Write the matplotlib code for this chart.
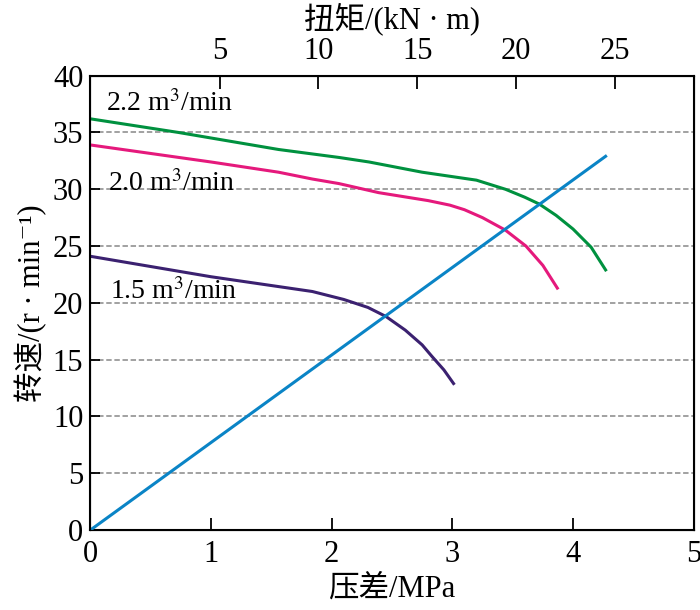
import numpy as np
import matplotlib
matplotlib.use("Agg")
import matplotlib.pyplot as plt

plt.rcParams['font.family'] = ['Liberation Serif', 'Noto Sans CJK SC', 'DejaVu Serif']
plt.rcParams['mathtext.fontset'] = 'stix'

# pressure difference (MPa) vs speed (r/min)
p_22 = [0.0, 0.73, 1.56, 2.06, 2.31, 2.75, 3.20, 3.44, 3.60, 3.72, 3.86, 4.00, 4.15, 4.27]
n_22 = [36.2, 35.0, 33.5, 32.8, 32.4, 31.5, 30.8, 30.0, 29.3, 28.7, 27.7, 26.5, 24.9, 22.9]

p_20 = [0.0, 1.00, 1.56, 1.84, 2.06, 2.39, 2.80, 2.98, 3.10, 3.25, 3.44, 3.61, 3.75, 3.87]
n_20 = [33.9, 32.4, 31.5, 30.9, 30.5, 29.7, 29.0, 28.6, 28.2, 27.5, 26.4, 25.0, 23.3, 21.3]

p_15 = [0.0, 1.00, 1.84, 2.10, 2.30, 2.45, 2.61, 2.75, 2.83, 2.93, 3.01]
n_15 = [24.1, 22.3, 21.0, 20.3, 19.6, 18.8, 17.6, 16.3, 15.3, 14.1, 12.9]

p_lin = [0.0, 4.27]
n_lin = [0.0, 32.9]

torque_ticks = [5, 10, 15, 20, 25]
torque_lim = (-1.55, 29.0)

fig = plt.figure(figsize=(7, 6.1), dpi=100)
ax = fig.add_axes([0.129, 0.131, 0.862, 0.745])

for y in range(5, 40, 5):
    ax.axhline(y, color='#9a9a9a', lw=1.3, ls=(0, (3, 1.5)), zorder=1)

ax.plot(p_22, n_22, color='#00913f', lw=2.2, zorder=3)
ax.plot(p_20, n_20, color='#e5197c', lw=2.2, zorder=3)
ax.plot(p_15, n_15, color='#3b2170', lw=2.2, zorder=3)
ax.plot(p_lin, n_lin, color='#0a84c6', lw=2.2, zorder=3)

ax.text(0.13, 37.5, '2.2 m$^3$/min', fontsize=20, va='center', ha='left')
ax.text(0.15, 30.5, '2.0 m$^3$/min', fontsize=20, va='center', ha='left')
ax.text(0.16, 21.0, '1.5 m$^3$/min', fontsize=20, va='center', ha='left')

ax.set_xlim(0, 5)
ax.set_ylim(0, 40)
ax.set_xticks([0, 1, 2, 3, 4, 5])
ax.set_yticks(range(0, 45, 5))
ax.tick_params(axis='both', direction='in', labelsize=22, width=1.3)
ax.tick_params(axis='x', length=9, pad=7)
ax.tick_params(axis='y', length=7, pad=5)
for s in ax.spines.values():
    s.set_linewidth(1.5)

ax.set_xlabel('压差/MPa', fontsize=22, labelpad=4)
ax.set_ylabel('转速/(r · min⁻¹)', fontsize=22, labelpad=4)

ax2 = ax.twiny()
ax2.set_xlim(*torque_lim)
ax2.set_xticks(torque_ticks)
ax2.tick_params(axis='x', direction='in', length=9, width=1.3, labelsize=22, pad=7)
ax2.set_xlabel('扭矩/(kN · m)', fontsize=22, labelpad=6)

fig.savefig('out.png', dpi=100)
